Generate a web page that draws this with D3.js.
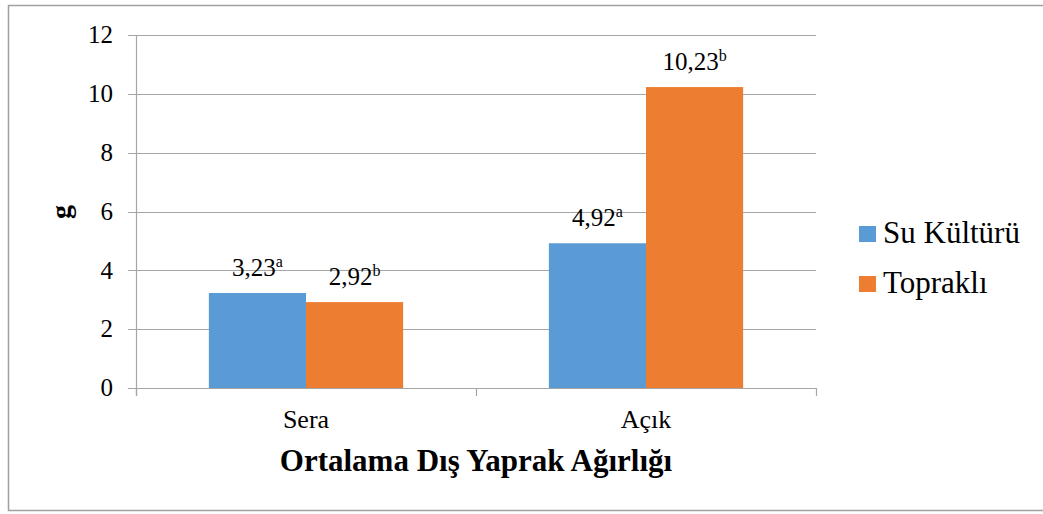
<!DOCTYPE html>
<html><head><meta charset="utf-8">
<script src="https://cdn.jsdelivr.net/npm/d3@7"></script>
<style>body{margin:0;background:#fff}svg{display:block}</style>
</head><body><svg id="c" width="1043" height="514" style="font-family:'Liberation Serif','DejaVu Serif',serif"></svg>
<script>
const categories = ["Sera", "Açık"];
const seriesNames = ["Su Kültürü", "Topraklı"];
const suKulturu = [3.23, 4.92];
const toprakli = [2.92, 10.23];
const suLetters = ["a", "a"];
const topLetters = ["b", "b"];
const yTicks = [0, 2, 4, 6, 8, 10, 12];
const colors = ["#5b9bd5", "#ed7d31"];
const FF = "'Liberation Serif','DejaVu Serif',serif";

const svg = d3.select("#c");
svg.append("path").attr("d","M1043,5.5 H8.5 V510.5 H1043").attr("fill","none").attr("stroke","#a0a0a0").attr("stroke-width",1.5);

const L = 136, R = 816, T = 35, B = 388;
const x = d3.scaleBand().domain(categories).range([L, R]).paddingInner(0).paddingOuter(0);
const y = d3.scaleLinear().domain([0, 12]).range([B, T]);
const inner = d3.scaleBand().domain([0,1]).range([0, x.bandwidth()]).paddingOuter(0.75).paddingInner(0);

svg.append("g").selectAll("line").data(yTicks).join("line")
  .attr("x1", L - 8).attr("x2", R).attr("y1", d => Math.round(y(d))+0.5).attr("y2", d => Math.round(y(d))+0.5)
  .attr("stroke", "#a6a6a6").attr("stroke-width", 1.2);
svg.append("line").attr("x1", L+0.5).attr("x2", L+0.5).attr("y1", T).attr("y2", B+8).attr("stroke","#a6a6a6").attr("stroke-width",1.2);
const xTickPos = [L, L + x.bandwidth(), R];
svg.append("g").selectAll("line").data(xTickPos).join("line")
  .attr("x1", d => d+0.5).attr("x2", d => d+0.5).attr("y1", B).attr("y2", B+8)
  .attr("stroke","#a6a6a6").attr("stroke-width",1.2);

svg.append("g").selectAll("text").data(yTicks).join("text")
  .attr("font-family", FF)
  .attr("x", 113).attr("y", d => y(d)).attr("dy", "0.33em").attr("text-anchor","end")
  .attr("font-size", 25).text(d => d);

const series = [suKulturu, toprakli];
const letters = [suLetters, topLetters];
series.forEach((vals, si) => {
  const g = svg.append("g");
  g.selectAll("rect").data(vals).join("rect")
    .attr("x", (d,i) => x(categories[i]) + inner(si))
    .attr("width", inner.bandwidth())
    .attr("y", d => y(d)).attr("height", d => B - y(d))
    .attr("fill", colors[si]);
  const t = g.selectAll("text").data(vals).join("text")
    .attr("font-family", FF)
    .attr("x", (d,i) => x(categories[i]) + inner(si) + inner.bandwidth()/2)
    .attr("y", d => y(d) - 17)
    .attr("text-anchor","middle").attr("font-size", 25);
  t.append("tspan").text(d => d.toFixed(2).replace(".", ","));
  t.append("tspan").attr("font-size", 16).attr("dy", -9).text((d,i) => letters[si][i]);
});

svg.append("g").selectAll("text").data(categories).join("text")
  .attr("font-family", FF)
  .attr("x", d => x(d) + x.bandwidth()/2).attr("y", 428).attr("text-anchor","middle")
  .attr("font-size", 26).text(d => d);

svg.append("text").attr("font-family", FF).attr("x", (L+R)/2).attr("y", 471).attr("text-anchor","middle")
  .attr("font-size", 31).attr("font-weight","bold").text("Ortalama Dış Yaprak Ağırlığı");

svg.append("text").attr("font-family", FF).attr("transform","translate(67,212) rotate(-90)").attr("text-anchor","middle")
  .attr("dy","0.1em").attr("font-size", 28).attr("font-weight","bold").text("g");

const lg = svg.append("g").selectAll("g").data(seriesNames).join("g")
  .attr("transform", (d,i) => `translate(859,${243 + i*50})`);
lg.append("rect").attr("x",0).attr("y",-17).attr("width",17).attr("height",16).attr("fill",(d,i)=>colors[i]);
lg.append("text").attr("font-family", FF).attr("x",24).attr("y",0).attr("font-size",31).text(d => d);
</script></body></html>
